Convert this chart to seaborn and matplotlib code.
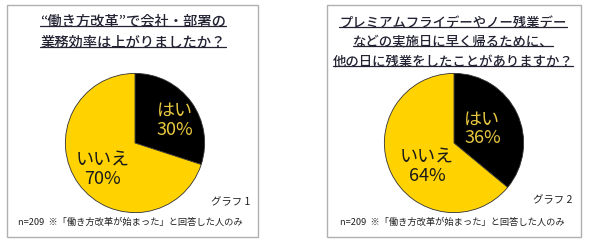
import matplotlib
matplotlib.use("Agg")
import matplotlib.pyplot as plt
from matplotlib.patches import Rectangle
from matplotlib.lines import Line2D
import seaborn as sns

sns.set_theme(style="white")
plt.rcParams['font.family'] = ['Noto Sans CJK JP', 'DejaVu Sans']

# ---- data ----
answers = ["はい", "いいえ"]
values_g1 = [30, 70]
values_g2 = [36, 64]
titles = [
    ["“働き方改革”で会社・部署の", "業務効率は上がりましたか？"],
    ["プレミアムフライデーやノー残業デー", "などの実施日に早く帰るために、", "他の日に残業をしたことがありますか？"],
]
graph_labels = ["グラフ 1", "グラフ 2"]
footnote = "n=209  ※「働き方改革が始まった」と回答した人のみ"

colors = ["#000000", "#FFD200"]
text_colors = ["#E8C840", "#1a1a1a"]

W, H = 590, 246
fig = plt.figure(figsize=(W / 100, H / 100), dpi=100)
fig.patch.set_facecolor("white")

def fx(px):
    return px / W

def fy(py):
    return 1 - py / H

panels = [
    dict(values=values_g1, box=(7, 5, 258, 237), center=(135, 143), r=71,
         title=titles[0], title_x=133, title_y=[22, 43], title_fs=10.3,
         lab_pos=[(0.78, 0.66), (0.27, 0.31)],
         glabel=graph_labels[0], glabel_pos=(231, 202), foot_x=18),
    dict(values=values_g2, box=(327, 5, 581, 237), center=(454, 143), r=71,
         title=titles[1], title_x=453, title_y=[23, 42, 62], title_fs=9.6,
         lab_pos=[(0.70, 0.60), (0.31, 0.33)],
         glabel=graph_labels[1], glabel_pos=(553, 200), foot_x=340),
]

title_texts = []
for p in panels:
    x0, y0, x1, y1 = p["box"]
    fig.patches.append(Rectangle((fx(x0), fy(y1)), fx(x1 - x0), (y1 - y0) / H,
                                 transform=fig.transFigure, fill=False,
                                 edgecolor="#b0b0b0", linewidth=1.0))
    cx, cy = p["center"]
    r = p["r"]
    ax = fig.add_axes([fx(cx - r), fy(cy + r), fx(2 * r), 2 * r / H])
    ax.pie(p["values"], colors=colors, startangle=90, counterclock=False,
           wedgeprops=dict(edgecolor="#333333", linewidth=0.6))
    ax.set_xlim(-1.02, 1.02)
    ax.set_ylim(-1.02, 1.02)
    ax.set_axis_off()
    for i, (lab, v) in enumerate(zip(answers, p["values"])):
        px, py = p["lab_pos"][i]
        ax.text(px, py, f"{lab}\n{v}%", transform=ax.transAxes, ha="center",
                va="center", fontsize=13, color=text_colors[i], linespacing=1.05)
    for line, ty in zip(p["title"], p["title_y"]):
        t = fig.text(fx(p["title_x"]), fy(ty), line, ha="center", va="center",
                     fontsize=p["title_fs"], color="#222233", fontweight="medium")
        title_texts.append(t)
    gx, gy = p["glabel_pos"]
    fig.text(fx(gx), fy(gy), p["glabel"], ha="center", va="center",
             fontsize=7.5, color="#222222")
    fig.text(fx(p["foot_x"]), fy(222), footnote, ha="left", va="center",
             fontsize=6.7, color="#222222")

fig.canvas.draw()
renderer = fig.canvas.get_renderer()
inv = fig.transFigure.inverted()
for t in title_texts:
    bb = t.get_window_extent(renderer)
    (a, b), (c, d) = inv.transform([(bb.x0, bb.y0), (bb.x1, bb.y1)])
    fig.lines.append(Line2D([a, c], [b + 0.012, b + 0.012], transform=fig.transFigure,
                            color="#222233", linewidth=0.9))

fig.savefig("out.png", dpi=100, facecolor="white")
